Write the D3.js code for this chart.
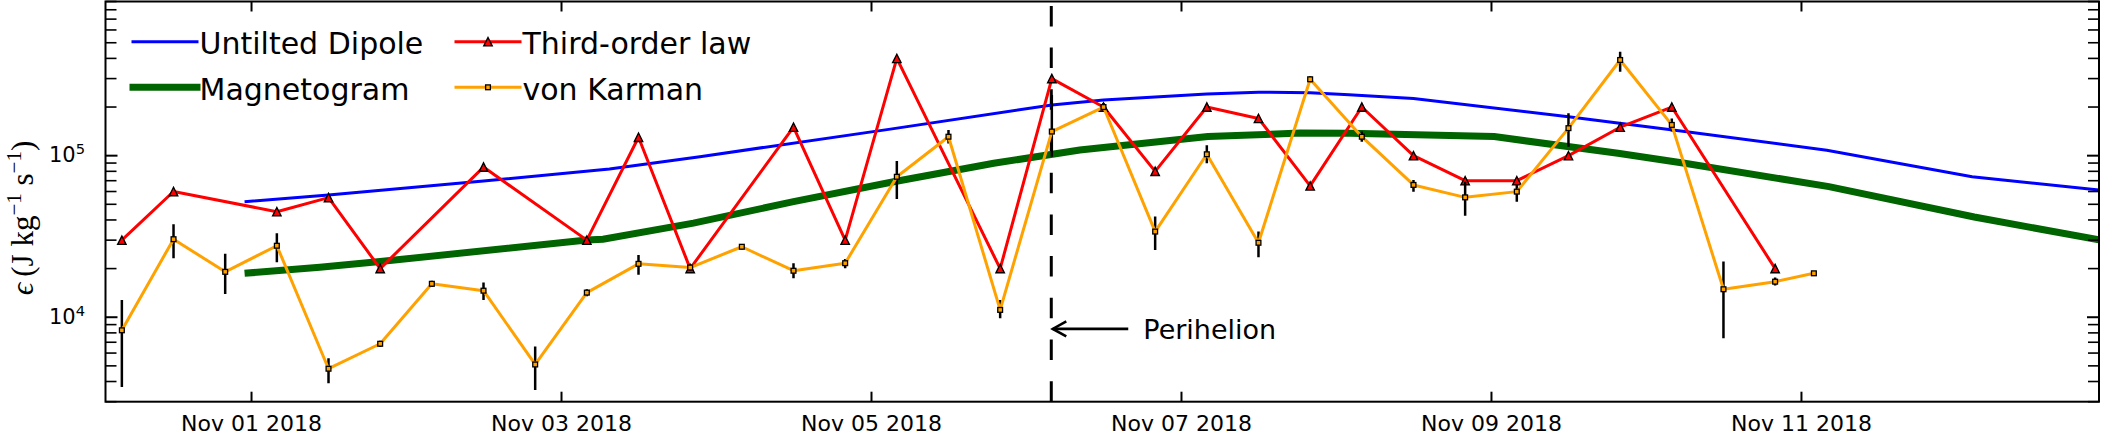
<!DOCTYPE html>
<html><head><meta charset="utf-8">
<script src="https://cdn.jsdelivr.net/npm/d3@7"></script>
<style>body{margin:0;background:#fff}svg{display:block}</style>
</head><body>
<svg id="c" width="2101" height="435"></svg>
<script>
// ---------------- DATA ----------------
const dipoleTimes = ["2018-10-31T23:00","2018-11-01T12:00","2018-11-02T12:00","2018-11-03T07:30","2018-11-03T21:30","2018-11-05T03:00","2018-11-06T04:00","2018-11-06T12:00","2018-11-07T04:00","2018-11-07T12:00","2018-11-07T20:00","2018-11-08T02:00","2018-11-08T12:00","2018-11-09T12:00","2018-11-10T06:00","2018-11-11T04:00","2018-11-12T02:30","2018-11-12T22:09"];
const dipoleValues = [51900,57100,69700,82800,98600,146000,206000,221000,241000,247000,245000,238000,226000,174000,141000,108000,74000,61400];

const magTimes = ["2018-10-31T23:00","2018-11-01T10:40","2018-11-01T20:00","2018-11-03T04:00","2018-11-03T06:30","2018-11-03T20:30","2018-11-04T12:00","2018-11-05T03:30","2018-11-05T19:00","2018-11-06T08:20","2018-11-07T04:10","2018-11-07T18:30","2018-11-08T02:10","2018-11-09T00:30","2018-11-09T19:40","2018-11-10T06:00","2018-11-11T04:20","2018-11-12T02:50","2018-11-12T22:09"];
const magValues = [18700,20400,22100,30100,30400,38200,51900,69000,89700,108400,131200,138000,137700,131200,103500,89700,64300,41700,30100];

const thirdTimes = ["2018-10-31T04:00","2018-10-31T12:00","2018-11-01T04:00","2018-11-01T12:00","2018-11-01T20:00","2018-11-02T12:00","2018-11-03T04:00","2018-11-03T12:00","2018-11-03T20:00","2018-11-04T12:00","2018-11-04T20:00","2018-11-05T04:00","2018-11-05T20:00","2018-11-06T04:00","2018-11-06T12:00","2018-11-06T20:00","2018-11-07T04:00","2018-11-07T12:00","2018-11-07T20:00","2018-11-08T04:00","2018-11-08T12:00","2018-11-08T20:00","2018-11-09T04:00","2018-11-09T12:00","2018-11-09T20:00","2018-11-10T04:00","2018-11-10T20:00"];
const thirdValues = [30000,60000,45000,55000,20000,85000,30000,130000,20000,150000,30000,400000,20000,300000,200000,80000,200000,170000,65000,200000,100000,70000,70000,100000,150000,200000,20000];

const vkTimes = ["2018-10-31T04:00","2018-10-31T12:00","2018-10-31T20:00","2018-11-01T04:00","2018-11-01T12:00","2018-11-01T20:00","2018-11-02T04:00","2018-11-02T12:00","2018-11-02T20:00","2018-11-03T04:00","2018-11-03T12:00","2018-11-03T20:00","2018-11-04T04:00","2018-11-04T12:00","2018-11-04T20:00","2018-11-05T04:00","2018-11-05T12:00","2018-11-05T20:00","2018-11-06T04:00","2018-11-06T12:00","2018-11-06T20:00","2018-11-07T04:00","2018-11-07T12:00","2018-11-07T20:00","2018-11-08T04:00","2018-11-08T12:00","2018-11-08T20:00","2018-11-09T04:00","2018-11-09T12:00","2018-11-09T20:00","2018-11-10T04:00","2018-11-10T12:00","2018-11-10T20:00","2018-11-11T02:00"];
const vkValues = [8300,30400,19100,27700,4800,6850,16100,14600,5100,14200,21400,20300,27300,19400,21600,74000,131000,11100,141000,200000,33900,102000,28900,297000,131000,65900,55200,59900,148000,391000,155000,14900,16600,18700];
const vkLow  = [3700,23200,13900,21900,3900,6550,15400,12800,3550,13500,18300,19400,26300,17400,20100,54000,119000,9860,98600,190000,26100,89800,23500,284000,122000,59800,42400,51900,113700,331000,141000,7410,15700,null];
const vkHigh = [12800,37600,24700,33100,5570,7150,16800,16400,6580,14900,24300,21200,28400,21600,22900,92700,144000,12800,237000,212000,42000,116000,33900,310000,141000,70600,69000,65900,183000,440000,170000,22100,17600,null];

const xTickTimes = ["2018-11-01T00:00","2018-11-03T00:00","2018-11-05T00:00","2018-11-07T00:00","2018-11-09T00:00","2018-11-11T00:00"];
const yMajorValues = [1e4, 1e5];
const yMajorExponents = ["4", "5"];
const legendLabels = ["Untilted Dipole", "Magnetogram", "Third-order law", "von Karman"];
const yLabelParts = ["ϵ", "(J kg", "−1", " s", "−1", ")"];
const periTime = "2018-11-06T03:55";
const arrowTailTime = "2018-11-06T15:50";
const periTextTime = "2018-11-06T18:10";
const arrowValue = 8470;
const periLabel = "Perihelion";
const xDomain = ["2018-10-31T01:28", "2018-11-12T22:09"];
const yDomain = [3000, 9e5];

// ---------------- CHART ----------------
const parseT = d3.utcParse("%Y-%m-%dT%H:%M");
const X0 = 105.5, X1 = 2099, Y0 = 1.5, Y1 = 401.7;
const x = d3.scaleUtc().domain(xDomain.map(parseT)).range([X0, X1]);
const y = d3.scaleLog().domain(yDomain).range([Y1, Y0]);
const svg = d3.select("#c");
const FONT = "DejaVu Sans";

svg.append("defs").append("clipPath").attr("id", "clip")
  .append("rect").attr("x", X0).attr("y", Y0).attr("width", X1 - X0).attr("height", Y1 - Y0);
const plot = svg.append("g").attr("clip-path", "url(#clip)");

const C_BLUE = "#0000ff", C_GREEN = "#006400", C_RED = "#ff0000", C_ORANGE = "#ffa200";
const line = d3.line().x(d => x(d[0])).y(d => y(d[1]));
const zip = (ts, vs) => ts.map((t, i) => [parseT(t), vs[i]]);

// perihelion dashed line
const xp = x(parseT(periTime));
plot.append("path").attr("d", `M${xp},${Y1}V${Y0}`)
  .attr("stroke", "#000").attr("stroke-width", 3).attr("stroke-dasharray", "20.5,21.2");

plot.append("path").datum(zip(dipoleTimes, dipoleValues)).attr("d", line)
  .attr("fill", "none").attr("stroke", C_BLUE).attr("stroke-width", 3);
plot.append("path").datum(zip(magTimes, magValues)).attr("d", line)
  .attr("fill", "none").attr("stroke", C_GREEN).attr("stroke-width", 7);

const thirdData = zip(thirdTimes, thirdValues);
plot.append("path").datum(thirdData).attr("d", line)
  .attr("fill", "none").attr("stroke", C_RED).attr("stroke-width", 3).attr("stroke-linejoin", "round");
const tri = (cx, cy, s) => `M${cx},${cy - s}L${cx + s},${cy + s}L${cx - s},${cy + s}Z`;
plot.selectAll(".tri").data(thirdData).join("path")
  .attr("d", d => tri(x(d[0]), y(d[1]), 4.2))
  .attr("fill", C_RED).attr("stroke", "#000").attr("stroke-width", 1.4);

const vkData = vkTimes.map((t, i) => ({ t: parseT(t), v: vkValues[i], lo: vkLow[i], hi: vkHigh[i] }));
plot.selectAll(".eb").data(vkData.filter(d => d.lo != null)).join("line")
  .attr("x1", d => x(d.t)).attr("x2", d => x(d.t))
  .attr("y1", d => y(d.lo)).attr("y2", d => y(d.hi))
  .attr("stroke", "#000").attr("stroke-width", 2.5);
plot.append("path").datum(vkData.map(d => [d.t, d.v])).attr("d", line)
  .attr("fill", "none").attr("stroke", C_ORANGE).attr("stroke-width", 3).attr("stroke-linejoin", "round");
plot.selectAll(".sq").data(vkData).join("rect")
  .attr("x", d => x(d.t) - 2.4).attr("y", d => y(d.v) - 2.4)
  .attr("width", 4.8).attr("height", 4.8)
  .attr("fill", C_ORANGE).attr("stroke", "#000").attr("stroke-width", 1.3);

// annotation arrow
const ya = y(arrowValue), xt = x(parseT(arrowTailTime));
svg.append("path").attr("d", `M${xt},${ya}H${xp + 1.5}`).attr("stroke", "#000").attr("stroke-width", 2.6).attr("fill", "none");
svg.append("path").attr("d", `M${xp + 15},${ya - 7.5}L${xp + 1.5},${ya}L${xp + 15},${ya + 7.5}`)
  .attr("stroke", "#000").attr("stroke-width", 2.6).attr("fill", "none");
svg.append("text").attr("x", x(parseT(periTextTime))).attr("y", ya + 10)
  .attr("font-family", FONT).attr("font-size", 27).attr("fill", "#000").text(periLabel);

// axes frame
svg.append("rect").attr("x", X0).attr("y", Y0).attr("width", X1 - X0).attr("height", Y1 - Y0)
  .attr("fill", "none").attr("stroke", "#000").attr("stroke-width", 2);

// x ticks (inward, bottom and top)
const xt0 = xTickTimes.map(parseT);
const axB = d3.axisBottom(x).tickValues(xt0).tickSize(-10).tickPadding(13).tickFormat(d3.utcFormat("%b %d %Y"));
const gB = svg.append("g").attr("transform", `translate(0,${Y1})`).call(axB);
gB.select(".domain").remove();
gB.selectAll(".tick line").attr("stroke-width", 2);
gB.selectAll(".tick text").attr("font-family", FONT).attr("font-size", 22).attr("fill", "#000").attr("dy", "0.72em");
const axT = d3.axisTop(x).tickValues(xt0).tickSize(-10).tickFormat("");
const gT = svg.append("g").attr("transform", `translate(0,${Y0})`).call(axT);
gT.select(".domain").remove();
gT.selectAll(".tick line").attr("stroke-width", 2);

// y ticks (inward, left and right), major + minor
const minorVals = [];
[1e3, 1e4, 1e5].forEach(dec => { for (let m = 2; m <= 9; m++) { const v = m * dec; if (v >= yDomain[0] && v <= yDomain[1]) minorVals.push(v); } });
const yTicks = svg.append("g");
[[X0, 1], [X1, -1]].forEach(([xa, s]) => {
  yTicks.selectAll(null).data(minorVals).join("line")
    .attr("x1", xa).attr("x2", xa + s * 11).attr("y1", d => y(d)).attr("y2", d => y(d))
    .attr("stroke", "#000").attr("stroke-width", 1.6);
  yTicks.selectAll(null).data(yMajorValues).join("line")
    .attr("x1", xa).attr("x2", xa + s * 12).attr("y1", d => y(d)).attr("y2", d => y(d))
    .attr("stroke", "#000").attr("stroke-width", 2);
});
yMajorValues.forEach((v, i) => {
  const t = svg.append("text").attr("x", 85).attr("y", y(v) + 6.6).attr("text-anchor", "end")
    .attr("font-family", FONT).attr("font-size", 21).attr("fill", "#000");
  t.append("tspan").text("10");
  t.append("tspan").attr("dy", -8.3).attr("font-size", 14.7).text(yMajorExponents[i]);
});

// y label
const yl = svg.append("text").attr("transform", "translate(33,218) rotate(-90)")
  .attr("text-anchor", "middle").attr("font-family", "Liberation Serif").attr("font-size", 31).attr("fill", "#000");
yl.append("tspan").attr("font-style", "italic").text(yLabelParts[0]);
yl.append("tspan").attr("dx", 6).text(yLabelParts[1]);
yl.append("tspan").attr("dy", -12).attr("font-size", 21).text(yLabelParts[2]);
yl.append("tspan").attr("dy", 12).text(yLabelParts[3]);
yl.append("tspan").attr("dy", -12).attr("font-size", 21).text(yLabelParts[4]);
yl.append("tspan").attr("dy", 12).text(yLabelParts[5]);

// legend
const legRows = [41.7, 87.3];
const legend = svg.append("g");
const legItems = [
  { label: legendLabels[0], col: 0, row: 0, color: C_BLUE, w: 3, m: null },
  { label: legendLabels[1], col: 0, row: 1, color: C_GREEN, w: 7, m: null },
  { label: legendLabels[2], col: 1, row: 0, color: C_RED, w: 3, m: "tri" },
  { label: legendLabels[3], col: 1, row: 1, color: C_ORANGE, w: 3, m: "sq" }
];
const colX = [133, 456];
legItems.forEach(it => {
  const lx = colX[it.col], ly = legRows[it.row];
  legend.append("line").attr("x1", lx).attr("x2", lx + 64).attr("y1", ly).attr("y2", ly)
    .attr("stroke", it.color).attr("stroke-width", it.w).attr("stroke-linecap", "square");
  const cx = lx + 32;
  if (it.m === "tri") legend.append("path").attr("d", tri(cx, ly, 4.2)).attr("fill", C_RED).attr("stroke", "#000").attr("stroke-width", 1.4);
  if (it.m === "sq") legend.append("rect").attr("x", cx - 2.4).attr("y", ly - 2.4).attr("width", 4.8).attr("height", 4.8).attr("fill", C_ORANGE).attr("stroke", "#000").attr("stroke-width", 1.3);
  legend.append("text").attr("x", lx + 66.5).attr("y", ly + 12.3).attr("font-family", FONT).attr("font-size", 30).attr("fill", "#000").text(it.label);
});
</script>
</body></html>
